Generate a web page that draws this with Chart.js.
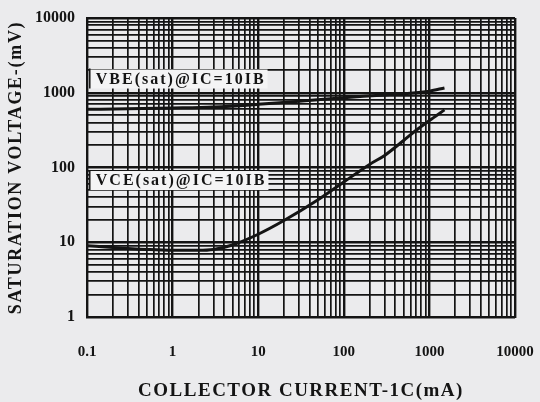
<!DOCTYPE html>
<html>
<head>
<meta charset="utf-8">
<script src="https://cdn.jsdelivr.net/npm/chart.js@4/dist/chart.umd.min.js"></script>
<style>
  html, body { margin: 0; padding: 0; background: #ebebed; }
  #wrap { width: 540px; height: 402px; position: relative; }
</style>
</head>
<body>
<div id="wrap"><canvas id="c"></canvas></div>
<script>
// Saturation voltage vs collector current (IC = 10 IB)
const vbeCurrent = [0.1, 0.3, 1, 3, 10, 30, 100, 300, 1000, 1500];          // mA
const vbeVoltage = [600, 610, 625, 645, 700, 770, 860, 935, 1050, 1160];     // mV

const vceCurrent = [0.1, 0.2, 0.5, 1, 2, 3, 5, 10, 20, 50, 100, 200, 300, 500, 700, 1000, 1500]; // mA
const vceVoltage = [9.0, 8.5, 8.0, 7.8, 7.8, 8.0, 9.2, 12.8, 19.5, 37, 64, 110, 145, 230, 315, 425, 590]; // mV

const curveNames = ['VBE(sat)@IC=10IB', 'VCE(sat)@IC=10IB'];

const xDecades = [0.1, 1, 10, 100, 1000, 10000];
const xDecadeLabels = ['0.1', '1', '10', '100', '1000', '10000'];
const yDecades = [1, 10, 100, 1000, 10000];
const yDecadeLabels = ['1', '10', '100', '1000', '10000'];

const xTitle = 'COLLECTOR CURRENT-1C(mA)';
const yTitle = 'SATURATION VOLTAGE-(mV)';

const INK = '#141414';
const SERIF = '"Liberation Serif", "DejaVu Serif", serif';

// full log grid: 1..9 in every decade
function logGrid(decades) {
  const out = [];
  for (let i = 0; i < decades.length - 1; i++) {
    for (let k = 1; k < 10; k++) out.push({ value: decades[i] * k });
  }
  out.push({ value: decades[decades.length - 1] });
  return out;
}
function decadeIndex(list, v) {
  return list.findIndex(d => Math.abs(d - v) / d < 1e-6);
}
function pairs(xs, ys) {
  return xs.map((x, i) => ({ x: x, y: ys[i] }));
}

// wide-tracked axis titles
const trackingPlugin = {
  id: 'titleTracking',
  afterLayout(chart) {
    const spacing = { x: '1.5px', y: '1.7px' };
    Object.keys(spacing).forEach(id => {
      const s = chart.scales[id];
      if (!s || s._tracked) return;
      const orig = s.drawTitle.bind(s);
      s.drawTitle = function () {
        const ctx = this.ctx;
        const prev = ctx.letterSpacing;
        if ('letterSpacing' in ctx) ctx.letterSpacing = spacing[id];
        orig();
        if ('letterSpacing' in ctx) ctx.letterSpacing = prev || '0px';
      };
      s._tracked = true;
    });
  }
};

// boxed curve captions placed in data space
const captionPlugin = {
  id: 'captions',
  afterDatasetsDraw(chart, args, opts) {
    const { ctx, scales } = chart;
    ctx.save();
    ctx.font = 'bold 16px ' + SERIF;
    ctx.textBaseline = 'middle';
    ctx.textAlign = 'left';
    if ('letterSpacing' in ctx) ctx.letterSpacing = '2px';
    opts.items.forEach(it => {
      const px = scales.x.getPixelForValue(it.x);
      const py = scales.y.getPixelForValue(it.y);
      const w = ctx.measureText(it.text).width;
      ctx.fillStyle = '#f4f4f5';
      ctx.fillRect(px - 4, py - 9, w + 8, 19);
      ctx.strokeStyle = INK;
      ctx.lineWidth = 1.5;
      ctx.beginPath();
      ctx.moveTo(px - 4, py - 10);
      ctx.lineTo(px - 4, py + 10);
      ctx.stroke();
      ctx.fillStyle = INK;
      ctx.fillText(it.text, px + 2, py + 1);
    });
    ctx.restore();
  }
};

new Chart(document.getElementById('c'), {
  type: 'line',
  data: {
    datasets: [
      {
        label: curveNames[0],
        data: pairs(vbeCurrent, vbeVoltage),
        borderColor: INK, borderWidth: 3, pointRadius: 0,
        cubicInterpolationMode: 'monotone', fill: false
      },
      {
        label: curveNames[1],
        data: pairs(vceCurrent, vceVoltage),
        borderColor: INK, borderWidth: 3, pointRadius: 0,
        cubicInterpolationMode: 'monotone', fill: false
      }
    ]
  },
  options: {
    responsive: true,
    maintainAspectRatio: false,
    animation: false,
    layout: { padding: { left: 0, right: 25, top: 18, bottom: 0 } },
    plugins: {
      legend: { display: false },
      tooltip: { enabled: false },
      captions: {
        items: [
          { text: curveNames[0], x: 0.12, y: 1550 },
          { text: curveNames[1], x: 0.12, y: 68 }
        ]
      }
    },
    scales: {
      x: {
        type: 'logarithmic',
        min: xDecades[0],
        max: xDecades[xDecades.length - 1],
        afterBuildTicks: s => { s.ticks = logGrid(xDecades); },
        afterFit: s => { s.height = 85; s.paddingLeft = 0; s.paddingRight = 0; },
        border: { display: true, color: INK, width: 2 },
        grid: {
          color: INK,
          lineWidth: c => (decadeIndex(xDecades, c.tick.value) >= 0 ? 2.4 : 1.7),
          drawTicks: false
        },
        ticks: {
          autoSkip: false, maxRotation: 0, padding: 26,
          color: INK,
          font: { family: SERIF, size: 15, weight: 'bold' },
          callback: v => { const i = decadeIndex(xDecades, v); return i >= 0 ? xDecadeLabels[i] : ''; }
        },
        title: {
          display: true, text: xTitle, color: INK,
          font: { family: SERIF, size: 19, weight: 'bold' },
          padding: { top: 1, bottom: 0 }
        }
      },
      y: {
        type: 'logarithmic',
        min: yDecades[0],
        max: yDecades[yDecades.length - 1],
        afterBuildTicks: s => { s.ticks = logGrid(yDecades); },
        afterFit: s => { s.width = 87; s.paddingTop = 0; s.paddingBottom = 0; },
        border: { display: true, color: INK, width: 2 },
        grid: {
          color: INK,
          lineWidth: c => (decadeIndex(yDecades, c.tick.value) >= 0 ? 2.4 : 1.7),
          drawTicks: false
        },
        ticks: {
          autoSkip: false, padding: 12,
          color: INK,
          font: { family: SERIF, size: 16, weight: 'bold' },
          callback: v => { const i = decadeIndex(yDecades, v); return i >= 0 ? yDecadeLabels[i] : ''; }
        },
        title: {
          display: true, text: yTitle, color: INK,
          font: { family: SERIF, size: 18, weight: 'bold' },
          padding: { top: 6, bottom: 0 }
        }
      }
    }
  },
  plugins: [trackingPlugin, captionPlugin]
});
</script>
</body>
</html>
